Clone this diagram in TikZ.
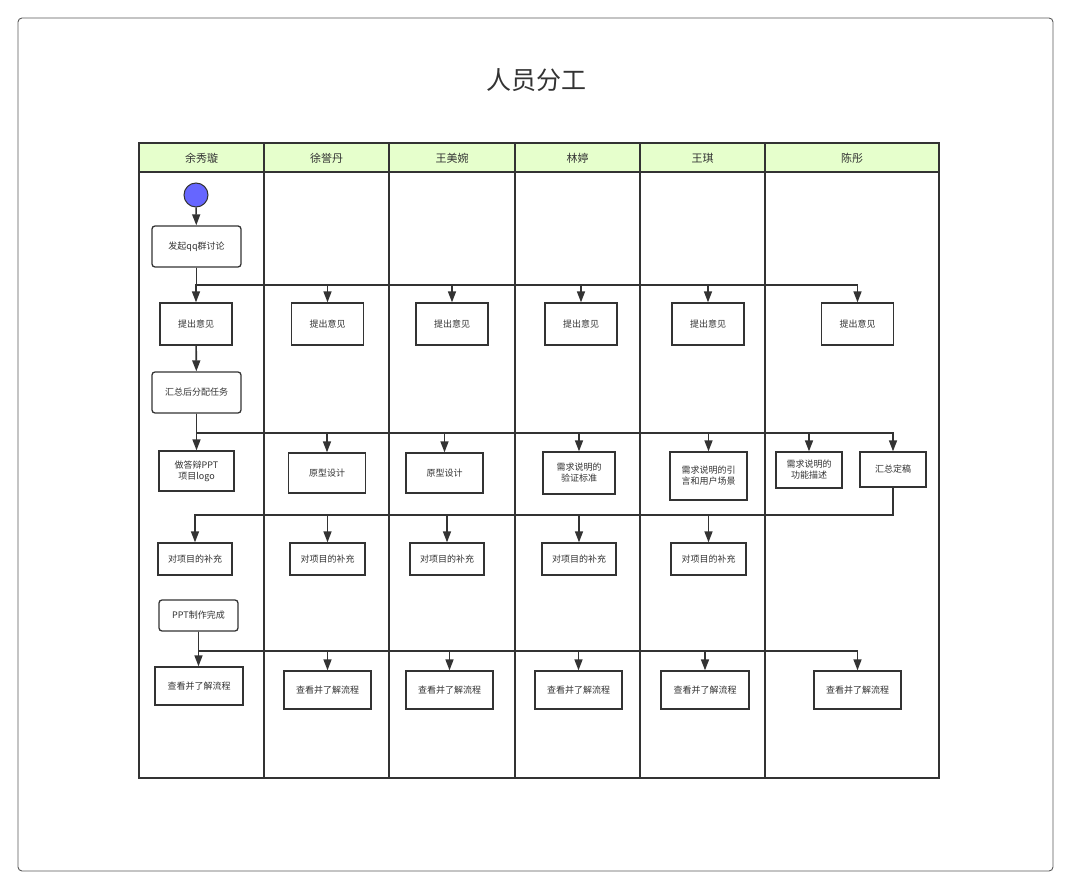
\documentclass[tikz,border=0pt]{standalone}
\usepackage{fontspec}
\setmainfont{Noto Sans CJK SC}
\usetikzlibrary{arrows.meta,calc}
\definecolor{ln}{HTML}{333333}
\definecolor{hdr}{HTML}{E6FFCC}
\definecolor{startc}{HTML}{6666FF}
\tikzset{
  box/.style={draw=ln,line width=1.3pt,fill=white,align=center,font=\fontsize{9}{11}\selectfont,text=ln,inner sep=0pt},
  rbox/.style={box,rounded corners=3pt},
  arr/.style={draw=ln,line width=1.6pt,-{Triangle[width=8pt,length=11pt]}},
  lane/.style={draw=ln,line width=1.3pt},
  hdrtxt/.style={font=\fontsize{11}{13}\selectfont,text=ln}
}
\begin{document}
\begin{tikzpicture}[x=1pt,y=-1pt]
\useasboundingbox (0,0) rectangle (1072,890);
% outer frame
\draw[draw=black!65,line width=0.9pt,rounded corners=4pt] (18,18) rectangle (1053,871);
\node[font=\fontsize{25}{28}\selectfont,text=ln] (title) at (536,80) {人员分工};
% pool
\fill[hdr] (139,143) rectangle (939,172);
\draw[lane] (139,143) rectangle (939,778);
\draw[lane] (139,172) -- (939,172);
\foreach \x in {264,389,515,640,765} \draw[lane] (\x,143) -- (\x,778);
\node[hdrtxt] (h1) at (201.5,158) {余秀璇};
\node[hdrtxt] (h2) at (326.5,158) {徐誉丹};
\node[hdrtxt] (h3) at (452,158) {王美婉};
\node[hdrtxt] (h4) at (577.5,158) {林婷};
\node[hdrtxt] (h5) at (702.5,158) {王琪};
\node[hdrtxt] (h6) at (852,158) {陈彤};
% start
\node[circle,draw=ln,line width=1pt,fill=startc,minimum size=24pt,inner sep=0pt] (st) at (196,195) {};
% row 1
\node[rbox,minimum width=89pt,minimum height=41pt] (fq) at (196.5,246.5) {发起qq群讨论};
\node[box,minimum width=72pt,minimum height=42pt] (t1) at (196,324) {提出意见};
\node[box,minimum width=72pt,minimum height=42pt] (t2) at (327.5,324) {提出意见};
\node[box,minimum width=72pt,minimum height=42pt] (t3) at (452,324) {提出意见};
\node[box,minimum width=72pt,minimum height=42pt] (t4) at (581,324) {提出意见};
\node[box,minimum width=72pt,minimum height=42pt] (t5) at (708,324) {提出意见};
\node[box,minimum width=72pt,minimum height=42pt] (t6) at (857.5,324) {提出意见};
% row 2
\node[rbox,minimum width=89pt,minimum height=41pt] (hz) at (196.5,392.5) {汇总后分配任务};
\node[box,minimum width=75pt,minimum height=40pt] (d1) at (196.5,471) {做答辩PPT\\项目logo};
\node[box,minimum width=77pt,minimum height=40pt] (d2) at (327,473) {原型设计};
\node[box,minimum width=77pt,minimum height=40pt] (d3) at (444.5,473) {原型设计};
\node[box,minimum width=72pt,minimum height=42pt] (d4) at (579,473) {需求说明的\\验证标准};
\node[box,minimum width=77pt,minimum height=48pt] (d5) at (708.5,476) {需求说明的引\\言和用户场景};
\node[box,minimum width=66pt,minimum height=36pt] (d6) at (809,470) {需求说明的\\功能描述};
\node[box,minimum width=66pt,minimum height=35pt] (d7) at (893,469.5) {汇总定稿};
% row 3
\node[box,minimum width=74pt,minimum height=32pt] (b1) at (195,559) {对项目的补充};
\node[box,minimum width=75pt,minimum height=32pt] (b2) at (327.5,559) {对项目的补充};
\node[box,minimum width=74pt,minimum height=32pt] (b3) at (447,559) {对项目的补充};
\node[box,minimum width=74pt,minimum height=32pt] (b4) at (579,559) {对项目的补充};
\node[box,minimum width=75pt,minimum height=32pt] (b5) at (708.5,559) {对项目的补充};
\node[rbox,minimum width=79pt,minimum height=31pt] (ppt) at (198.5,615.5) {PPT制作完成};
% row 4
\node[box,minimum width=88pt,minimum height=38pt] (c1) at (199,686) {查看并了解流程};
\node[box,minimum width=87pt,minimum height=38pt] (c2) at (327.5,690) {查看并了解流程};
\node[box,minimum width=87pt,minimum height=38pt] (c3) at (449.5,690) {查看并了解流程};
\node[box,minimum width=87pt,minimum height=38pt] (c4) at (578.5,690) {查看并了解流程};
\node[box,minimum width=88pt,minimum height=38pt] (c5) at (705,690) {查看并了解流程};
\node[box,minimum width=87pt,minimum height=38pt] (c6) at (857.5,690) {查看并了解流程};
% buses
\coordinate (y1) at (0,285);
\coordinate (y2) at (0,433);
\coordinate (y3) at (0,515);
\coordinate (y4) at (0,651);
% connectors
\draw[arr] (st) -- (fq);
\foreach \n in {t1,t2,t3,t4,t5,t6}
  \draw[arr] (fq.south) |- (y1 -| \n.north) -- (\n.north);
\draw[arr] (t1) -- (hz);
\draw[arr] (hz.south) -- (d1.north);
\foreach \n in {d2,d3,d4,d5,d6,d7}
  \draw[arr] (hz.south) |- (y2 -| \n.north) -- (\n.north);
\foreach \n in {b1,b2,b3,b4,b5}
  \draw[arr] (d7.south) |- (y3 -| \n.north) -- (\n.north);
\draw[arr] (ppt.south) -- (c1.north -| ppt.south);
\foreach \n in {c2,c3,c4,c5,c6}
  \draw[arr] (ppt.south) |- (y4 -| \n.north) -- (\n.north);
\end{tikzpicture}
\end{document}
